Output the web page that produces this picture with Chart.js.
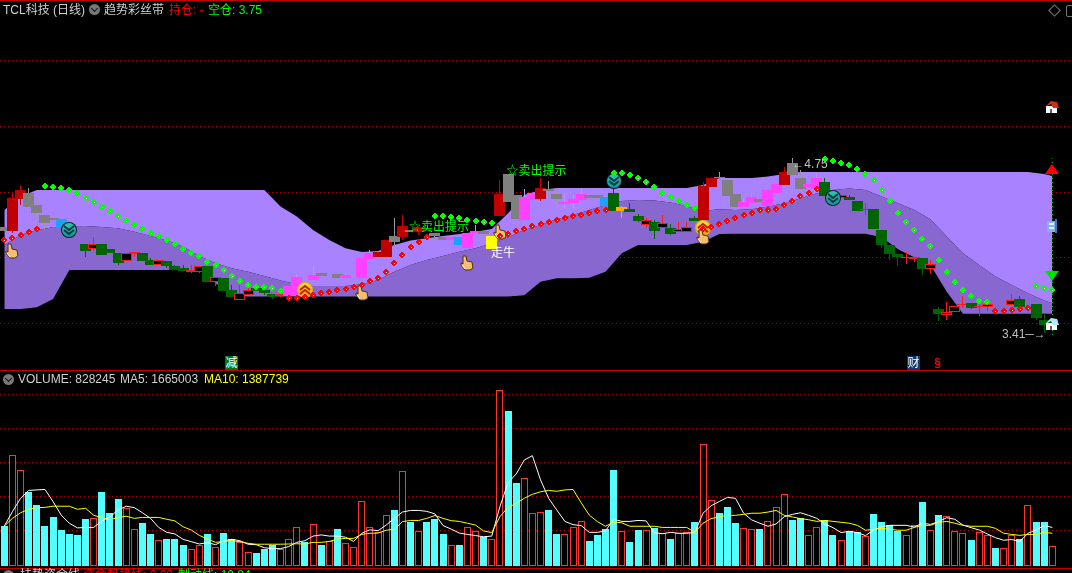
<!DOCTYPE html>
<html>
<head>
<meta charset="utf-8">
<title>TCL科技 (日线)</title>
<script src="https://cdn.jsdelivr.net/npm/chart.js@4/dist/chart.umd.min.js"></script>
<style>
  html, body { margin: 0; background: #000; }
  #stage { position: relative; width: 1072px; height: 573px; overflow: hidden; background: #000;
    font: 12px/20px "Liberation Sans", "Noto Sans CJK SC", sans-serif; color: #d0d0d0; }
  canvas { position: absolute; left: 0; }
  .txt { position: absolute; white-space: nowrap; }
  .rule { position: absolute; left: 0; width: 1072px; height: 1px; background: #c00000; }
  .chev { position: absolute; width: 11px; height: 11px; border-radius: 50%; background: #787878; }
  .chev::after { content: ""; position: absolute; left: 3px; top: 1.5px; width: 4px; height: 4px;
    border: solid #111; border-width: 0 1px 1px 0; transform: rotate(45deg); }
  .tag { position: absolute; width: 13px; height: 14px; line-height: 14px; text-align: center; color: #fff; }
</style>
</head>
<body>
<div id="stage">
  <canvas id="priceChart" width="1072" height="370" style="top:0"></canvas>
  <canvas id="volumeChart" width="1072" height="197" style="top:370px"></canvas>

  <div class="rule" style="top:0"></div>
  <div class="rule" style="top:370px"></div>
  <div class="rule" style="top:568px"></div>

  <span class="txt" style="left:3px;top:0">TCL科技 (日线)</span>
  <span class="chev" style="left:89px;top:4px"></span>
  <span class="txt" style="left:104px;top:0">趋势彩丝带</span>
  <span class="txt" style="left:169px;top:0;color:#ff0000">持仓: -</span>
  <span class="txt" style="left:208px;top:0;color:#00ff00">空仓: 3.75</span>
  <span style="position:absolute;left:1050px;top:6px;width:7px;height:7px;border:1px solid #777;transform:rotate(45deg)"></span>
  <span style="position:absolute;left:1066px;top:5px;width:10px;height:10px;border:1px solid #777;border-radius:2px"></span>

  <span class="tag" style="left:225px;top:356px;background:#007a10">减</span>
  <span class="tag" style="left:907px;top:356px;background:#123a70">财</span>
  <span class="tag" style="left:931px;top:356px;color:#ff0000;font-weight:bold">§</span>

  <span class="chev" style="left:3px;top:374px"></span>
  <span class="txt" style="left:18px;top:369px">VOLUME: 828245</span>
  <span class="txt" style="left:120px;top:369px">MA5: 1665003</span>
  <span class="txt" style="left:204px;top:369px;color:#ffff00">MA10: 1387739</span>

  <span class="chev" style="left:3px;top:570px"></span>
  <span class="txt" style="left:20px;top:565px">扶势资金线</span>
  <span class="txt" style="left:83px;top:565px;color:#ff0000">资金趋势线: 0.00</span>
  <span class="txt" style="left:178px;top:565px;color:#00ff00">制动线: 10.84</span>
</div>

<script>
// ---- data, one entry per trading day ----
const candleKinds = [
  "arraaaabn-","nonnnoonno","nnnoononno","onnnommmma","-am-mmrrar","ar-aambmma","yraammraam",
  "mmaabntnno","nonoonrraa","ammammraam","mnnonnonnn","noononooon","oo--on-nnn"
].join("").split("");

const bodyHigh = [
  4.235,4.453,4.513,4.49,4.4,4.325,4.303,4.295,4.25,null,
  4.108,4.108,4.108,4.07,4.04,4.04,4.048,4.04,3.988,3.988,
  3.98,3.943,3.928,3.913,3.943,3.943,3.86,3.853,3.763,3.74,
  3.763,3.778,3.763,3.733,3.733,3.793,3.86,3.813,3.875,3.89,
  null,3.883,3.875,null,4.005,4.04,4.048,4.138,4.168,4.243,
  4.213,4.233,null,4.193,4.16,4.16,4.16,4.19,4.205,4.205,
  4.168,4.483,4.633,4.475,4.46,4.49,4.528,4.52,4.483,4.423,
  4.445,4.483,4.475,4.475,4.46,4.49,4.385,4.37,4.318,4.288,
  4.273,4.265,4.228,4.22,4.235,4.303,4.543,4.603,4.613,4.588,
  4.483,4.423,4.46,4.445,4.513,4.558,4.648,4.713,4.603,4.558,
  4.603,4.573,4.5,4.475,4.46,4.43,4.37,4.37,4.213,4.1,
  4.033,4.013,4.013,4.003,3.958,3.62,3.598,3.643,3.658,3.665,
  3.643,3.658,null,null,3.688,3.695,null,3.658,3.538,3.538
];
const bodyLow = [
  4.205,4.205,4.445,4.385,4.34,4.265,4.29,4.228,4.188,null,
  4.055,4.07,4.025,4.04,3.965,3.98,4.033,3.98,3.95,3.95,
  3.943,3.913,3.905,3.898,3.898,3.823,3.823,3.755,3.71,3.688,
  3.725,3.755,3.74,3.71,3.72,3.718,3.718,3.733,3.838,3.868,
  null,3.853,3.853,null,3.855,3.995,4.01,4.01,4.123,4.16,
  4.198,4.198,null,4.168,4.138,4.138,4.1,4.078,4.19,4.183,
  4.07,4.318,4.423,4.295,4.288,4.438,4.445,4.505,4.445,4.408,
  4.415,4.438,4.453,4.453,4.393,4.355,4.355,4.348,4.28,4.25,
  4.205,4.228,4.183,4.198,4.198,4.28,4.288,4.535,4.603,4.468,
  4.385,4.385,4.415,4.423,4.393,4.49,4.55,4.625,4.52,4.533,
  4.52,4.468,4.413,4.45,4.438,4.355,4.365,4.22,4.1,4.033,
  4.01,4.003,3.998,3.92,3.92,3.585,3.573,3.598,3.65,3.628,
  3.635,3.635,null,null,3.65,3.635,null,3.553,3.5,3.5
];
// null = no wick beyond the body
const wickHigh = [
  null,4.483,4.55,4.525,4.438,null,4.388,null,null,null,
  null,4.16,null,null,null,null,null,null,4.003,null,
  null,3.95,3.95,3.95,null,null,null,null,3.8,3.8,
  3.778,null,null,null,null,null,3.883,null,3.943,null,
  null,3.943,3.888,null,null,4.063,null,null,4.303,4.325,
  null,null,null,null,null,null,null,null,4.25,null,
  null,4.588,null,null,4.52,null,4.603,4.58,4.52,4.483,
  4.475,4.525,null,null,4.498,4.535,4.393,4.415,4.333,4.303,
  4.288,4.325,4.258,4.273,4.273,4.318,4.575,null,4.648,null,
  null,4.45,4.488,4.488,null,null,4.688,4.75,4.663,null,
  4.638,4.603,null,null,4.475,null,4.415,null,null,null,
  null,4.048,null,null,3.988,3.635,3.673,null,3.718,null,
  3.695,null,null,null,3.733,3.718,null,null,3.588,null
];
const wickLow = [
  null,4.188,4.4,null,4.3,4.213,4.225,null,null,null,
  4.013,4.063,null,null,3.95,null,4.01,null,null,null,
  3.928,null,null,3.89,3.89,null,3.793,null,null,null,
  null,null,3.725,3.695,3.71,null,null,null,null,null,
  null,null,null,null,null,null,null,null,4.1,4.138,
  null,4.175,null,4.125,null,null,null,null,null,null,
  null,null,null,null,null,null,4.43,4.438,4.413,4.375,
  4.37,null,null,null,null,null,4.303,null,4.273,4.228,
  4.145,null,4.175,null,null,null,null,null,4.575,null,
  null,null,null,4.388,null,null,null,null,null,null,
  null,null,null,null,null,null,4.325,null,4.078,3.988,
  3.943,3.958,3.973,3.875,3.883,3.53,3.538,null,3.628,3.62,
  3.568,3.605,null,null,null,null,null,3.538,3.438,null
];

const ribbonAt = [0,2,4,6,8,10,12,14,16,18,20,22,24,26,28,30,32,34,36,38,40,42,44,46,48,50,52,54,56,58,60,62,64,
  66,68,70,72,74,76,78,80,82,84,86,88,90,92,94,96,98,100,102,104,106,108,110,112,114,116,118,120,122,124,126,128,129];
const ribbonTop = [4.363,4.463,4.513,4.513,4.513,4.513,4.513,4.513,4.513,4.513,4.513,4.513,4.513,4.513,4.513,4.513,4.513,
  4.388,4.313,4.213,4.138,4.075,4.048,4.055,4.1,4.133,4.15,4.168,4.183,4.2,4.22,4.338,4.475,4.513,
  4.528,4.528,4.528,4.528,4.528,4.528,4.528,4.528,4.528,4.55,4.603,4.603,4.603,4.613,4.633,
  4.648,4.648,4.648,4.648,4.648,4.648,4.648,4.648,4.648,4.648,4.648,4.648,4.648,4.648,4.648,4.633,4.618];
const ribbonMid = [4.1,4.175,4.213,4.233,4.24,4.243,4.235,4.225,4.2,4.168,4.133,4.088,4.018,3.963,3.925,3.9,3.868,3.833,3.805,
  3.793,3.793,3.793,3.805,3.838,3.9,3.95,3.988,4.018,4.05,4.075,4.113,4.158,4.213,4.25,4.293,4.325,4.363,4.4,4.43,4.438,4.433,4.418,4.393,4.355,
  4.368,4.363,4.368,4.388,4.413,4.45,4.488,4.513,4.523,4.513,4.463,4.413,4.363,4.293,4.163,4.038,3.95,3.863,3.8,3.738,3.683,3.663];
const ribbonLow = [3.62,3.62,3.633,3.695,3.913,3.913,3.913,3.913,3.913,3.913,3.913,3.913,3.913,3.813,3.718,
  3.713,3.713,3.713,3.713,3.713,3.713,3.713,3.713,3.713,3.713,3.713,3.713,3.713,3.713,3.713,3.713,3.713,
  3.723,3.825,3.85,3.85,3.855,3.9,4.038,4.1,4.1,4.1,4.1,4.125,4.183,
  4.185,4.185,4.185,4.185,4.185,4.185,4.185,4.185,4.185,4.158,4.068,4.008,3.95,3.75,
  3.585,3.585,3.585,3.585,3.585,3.585,3.585];

const bullDots = [
  4.138,4.153,4.175,4.198,4.22,null,null,null,null,null,
  null,null,null,null,null,null,null,null,null,null,
  null,null,null,null,null,null,null,null,null,null,
  null,null,null,null,null,3.703,3.703,3.71,3.725,3.74,
  3.75,3.763,3.77,3.785,3.8,3.83,3.853,3.898,3.965,4.025,
  4.085,4.123,4.16,null,null,null,null,null,null,null,
  null,4.168,4.183,4.205,4.22,4.243,4.258,4.273,4.288,4.303,
  4.318,4.325,4.34,4.355,4.363,null,null,null,null,null,
  null,null,null,null,null,null,4.218,4.235,4.258,4.28,
  4.303,4.325,4.34,4.363,4.363,4.37,4.4,4.43,4.468,4.49,
  4.52,null,null,null,null,null,null,null,null,null,
  null,null,null,null,null,null,null,null,null,null,
  null,null,3.605,3.605,3.613,3.62,3.628,null,null,null
];
const bearDots = [
  null,null,null,null,null,4.543,4.535,4.528,4.513,4.49,
  4.453,4.423,4.385,4.355,4.318,4.28,4.25,4.22,4.19,4.168,
  4.138,4.108,4.07,4.04,4.018,3.973,3.95,3.913,3.868,3.83,
  3.8,3.785,3.785,3.778,3.755,null,null,null,null,null,
  null,null,null,null,null,null,null,null,null,null,
  null,null,null,4.318,4.318,4.31,4.303,4.288,4.28,4.273,
  4.265,null,null,null,null,null,null,null,null,null,
  null,null,null,null,null,4.64,4.64,4.625,4.603,4.573,
  4.535,4.49,4.46,4.43,4.4,4.378,null,null,null,null,
  null,null,null,null,null,null,null,null,null,null,
  null,4.745,4.73,4.715,4.7,4.67,4.633,4.588,4.513,4.43,
  4.34,4.273,4.213,4.145,4.093,3.988,3.898,3.823,3.763,3.718,
  3.68,3.673,null,null,null,null,null,3.793,3.778,3.763
];

const handAt = [1,44,57,61,86];
const handPrice = [4.058,3.738,3.968,4.2,4.158];
const sellIconAt = [8,75,102];
const sellIconPrice = [4.213,4.58,4.453];
const buyIconAt = [37,86];
const buyIconPrice = [3.763,4.225];
const rangeLine = [3.425,4.75];

const labelTexts = ["☆卖出提示","☆卖出提示","走牛","←4.75","3.41─→"];
const labelAt = [61.8,49.8,59.9,97,122.8];
const labelPrice = [4.65,4.233,4.038,4.7,3.425];
const labelKinds = ["sell","sell","bull","note","note"];

// volume in units of 10 000, "u" = up day, "d" = down day
const volumeSides = [
  "duuddddddd","duddduuddu","ddduududdu","uddduuudud","uduuuuuudu","duddduduud","uudduuuddu",
  "uuddddu" + "ddu","duduuduudd","duuduuuddu","udduddu" + "ddd","duududuuud","uuduudu" + "ddu"
].join("").split("");
const volumes = [
  170,473,409,316,260,170,209,153,136,132,
  200,204,316,226,286,247,156,183,136,109,
  114,114,89,70,87,136,79,140,114,100,
  57,54,72,89,70,113,164,102,177,89,
  104,157,96,79,276,164,143,216,239,405,
  187,147,187,200,136,87,89,164,147,122,
  113,752,664,355,375,225,229,239,136,134,
  164,190,106,132,157,410,147,102,153,152,
  160,139,114,139,143,187,521,280,226,252,
  183,160,156,157,190,250,306,196,203,130,
  164,196,132,109,147,143,126,222,187,173,
  149,130,173,273,152,217,212,147,139,110,
  143,132,76,74,130,113,259,187,187,83
];
const ma5 = [
  170,232,289,323,325,327,275,217,182,162,
  164,164,192,209,239,255,249,227,203,164,
  143,136,113,103,93,99,90,107,113,107,
  92,90,77,73,73,82,100,107,127,132,
  127,127,122,104,139,154,150,174,203,230,
  237,237,233,222,172,157,140,134,129,124,
  127,253,356,393,453,472,368,289,239,190,
  176,172,143,143,149,199,190,190,194,192,
  142,137,143,139,139,143,225,257,275,293,
  289,225,196,182,169,179,210,220,227,216,
  203,179,163,142,147,142,129,153,167,173,
  173,173,166,182,177,189,206,199,174,163,
  153,136,120,109,112,104,139,153,172,164
];
const ma10 = [
  170,203,227,242,249,250,255,255,255,242,
  246,216,206,197,206,212,203,207,207,207,
  199,192,167,153,130,114,100,104,107,103,
  96,92,92,92,92,93,94,93,100,100,
  104,114,117,117,134,139,140,152,156,189,
  194,194,203,215,203,193,190,182,174,149,
  142,210,250,267,289,306,317,323,319,325,
  327,270,217,189,169,187,184,169,169,169,
  169,164,164,164,164,143,182,202,209,216,
  216,220,225,225,230,237,216,209,202,197,
  190,194,190,186,182,173,152,156,160,156,
  152,152,164,173,173,186,190,182,173,169,
  169,169,160,139,134,130,134,134,143,139
];
const priceGridLevels = [5.48,4.989,4.495,4.006,3.515];
const volumeGridLevels = [735,589,443,297,152];

// ---- styles ----
const bodyFill = { a:"#808080", r:"#c00000", o:"#000000", n:"#006400", m:"#ff40ff", b:"#1ea0ff", y:"#ffff00", t:"#ffb000" };
const bodyEdge = { a:"#808080", r:"#c00000", o:"#ff1818", n:"#006400", m:"#ff40ff", b:"#1ea0ff", y:"#ffff00", t:"#ffb000" };
const wickTone = { a:"#9a9a9a", r:"#c80000", o:"#ff1818", n:"#006400", m:"#c090ff", b:"#60b0ff", y:"#ffff00", t:"#ffb000" };
const labelTone = { sell:"#00ff00", bull:"#ffffff", note:"#c0c0c0" };
const uiFont = '12px "Liberation Sans", "Noto Sans CJK SC", sans-serif';

// the whole 130 days sit on x = index, scale limits chosen so day 0 lands at 4.3px and the pitch is 8.12px
const xMin = -0.533, xMax = 131.42;

function sprite(w, h, paint) {
  const c = document.createElement("canvas");
  c.width = w; c.height = h;
  paint(c.getContext("2d"));
  return c;
}

function dotSprite(color) {
  return sprite(6, 6, g => {
    g.fillStyle = color;
    [[2,0,2],[1,1,4],[0,2,6],[0,3,6],[1,4,4],[2,5,2]].forEach(([x, y, w]) => g.fillRect(x, y, w, 1));
    g.fillStyle = "#ffffff";
    g.fillRect(3, 3, 1, 1);
  });
}

const handIcon = sprite(14, 16, g => {
  g.beginPath();
  g.moveTo(3,1); g.lineTo(6,1); g.lineTo(7,6); g.lineTo(12,7); g.lineTo(13,13); g.lineTo(10,15);
  g.lineTo(5,15); g.lineTo(1,10); g.lineTo(1,8); g.lineTo(3,9); g.closePath();
  g.fillStyle = "#f5bd70"; g.fill();
  g.strokeStyle = "#4a3210"; g.lineWidth = 1; g.stroke();
  g.strokeStyle = "#fff2d8";
  g.beginPath(); g.moveTo(2,10); g.lineTo(5,14); g.stroke();
});

function badge(size, ring, top, bottom, arrow, pointsUp) {
  return sprite(size, size, g => {
    const r = size / 2;
    g.fillStyle = ring;
    g.beginPath(); g.arc(r, r, r, 0, Math.PI * 2); g.fill();
    const fill = g.createLinearGradient(0, 0, 0, size);
    fill.addColorStop(0, top); fill.addColorStop(1, bottom);
    g.fillStyle = fill;
    g.beginPath(); g.arc(r, r, r - 1, 0, Math.PI * 2); g.fill();
    g.strokeStyle = arrow; g.lineWidth = 2;
    const dir = pointsUp ? -1 : 1;
    [-2, 2].forEach(off => {
      g.beginPath();
      g.moveTo(r - 5, r + off - 2 * dir); g.lineTo(r, r + off + 2 * dir); g.lineTo(r + 5, r + off - 2 * dir);
      g.stroke();
    });
  });
}
const sellIcon = badge(16, "#101820", "#38c8b0", "#109098", "#0b3b48", false);
const buyIcon = badge(16, "#e8b000", "#ffe040", "#f09010", "#c02010", true);

function triangle(color, pointsUp) {
  return sprite(14, 10, g => {
    g.fillStyle = color;
    g.beginPath();
    if (pointsUp) { g.moveTo(7,0); g.lineTo(14,10); g.lineTo(0,10); }
    else { g.moveTo(0,0); g.lineTo(14,0); g.lineTo(7,10); }
    g.fill();
  });
}
function house(roof, wall) {
  return sprite(16, 14, g => {
    g.fillStyle = wall; g.fillRect(2, 6, 11, 7);
    g.fillStyle = roof;
    g.beginPath(); g.moveTo(1,7); g.lineTo(7,1); g.lineTo(13,2); g.lineTo(15,8); g.lineTo(9,8); g.lineTo(7,4); g.closePath(); g.fill();
    g.fillStyle = "#606060"; g.fillRect(6, 9, 2, 4);
  });
}
const canIcon = sprite(10, 14, g => {
  g.fillStyle = "#80b4ea"; g.fillRect(0, 2, 10, 11);
  g.fillStyle = "#dceeff"; g.fillRect(2, 4, 5, 2); g.fillRect(2, 8, 5, 2);
  g.fillStyle = "#3f78c0"; g.fillRect(8, 0, 2, 14);
});

const sideAt = [129,129,129,129,129];
const sidePrice = [5.135,4.668,4.243,3.868,3.505];
const sideIcons = [house("#d03010","#ffffff"), triangle("#ff0000",true), canIcon, triangle("#00e000",false), house("#b8e4ff","#ffffff")];

// ---- helpers ----
const xy = (list, at) => list.map((v, i) => ({ x: at ? at[i] : i, y: v })).filter(p => p.y !== null);

const pixelSnap = {
  id: "pixelSnap",
  beforeDatasetsDraw(chart) {
    chart.getSortedVisibleDatasetMetas().forEach(meta => {
      const ds = chart.data.datasets[meta.index];
      if (meta.type === "bar") {
        meta.data.forEach(el => {
          el.x = Math.floor(el.x) + 0.5;
          el.y = Math.round(el.y);
          el.base = Math.round(el.base);
          if (el.y === el.base) el.y -= 1;
        });
      } else if (ds.showLine === false) {
        meta.data.forEach(el => { el.x = Math.round(el.x); el.y = Math.round(el.y); });
      }
    });
  }
};

const chartLabels = {
  id: "chartLabels",
  afterDatasetsDraw(chart) {
    const g = chart.ctx;
    g.save();
    g.font = uiFont;
    g.textBaseline = "middle";
    labelTexts.forEach((t, i) => {
      g.fillStyle = labelTone[labelKinds[i]];
      g.fillText(t, chart.scales.x.getPixelForValue(labelAt[i]), chart.scales.y.getPixelForValue(labelPrice[i]));
    });
    g.restore();
  }
};

function gridAxis(min, max, levels) {
  return {
    min, max,
    afterFit: scale => { scale.width = 0; },
    afterBuildTicks: scale => { scale.ticks = levels.map(value => ({ value })); },
    ticks: { display: false },
    border: { display: false, dash: [1, 3] },
    grid: { color: "#b00000", drawTicks: false, lineWidth: 1 }
  };
}
const xAxis = { type: "linear", min: xMin, max: xMax, offset: false, display: false, grid: { display: false, offset: false } };
const baseOptions = {
  responsive: false,
  animation: false,
  devicePixelRatio: 1,
  layout: { padding: 0, autoPadding: false },
  plugins: { legend: { display: false }, tooltip: { enabled: false } }
};

// ---- price panel ----
const ranges = bodyHigh.map((hi, i) => hi === null ? null : { x: i, y: [bodyLow[i], hi], k: candleKinds[i] }).filter(Boolean);
const wicks = bodyHigh.map((hi, i) => hi === null ? null : { x: i, y: [wickLow[i] ?? bodyLow[i], wickHigh[i] ?? hi], k: candleKinds[i] }).filter(Boolean);

const ribbon = (data, fill, color, order) => ({
  type: "line", data: xy(data, ribbonAt), fill, backgroundColor: color, borderWidth: 0, pointRadius: 0, tension: 0, order
});
const markers = (data, style, order) => ({
  type: "line", data, showLine: false, pointStyle: style, pointRadius: 4, order
});

new Chart(document.getElementById("priceChart"), {
  type: "bar",
  data: {
    datasets: [
      ribbon(ribbonTop, "+1", "#a882ff", 100),
      ribbon(ribbonMid, "+1", "#8868d0", 99),
      ribbon(ribbonLow, false, "#8868d0", 98),
      { type: "bar", grouped: false, data: wicks, barThickness: 1, inflateAmount: 0, borderWidth: 0,
        backgroundColor: c => wickTone[c.raw.k], order: 60 },
      { type: "bar", grouped: false, data: ranges, barThickness: 11, inflateAmount: 0, borderWidth: 1, borderSkipped: false,
        backgroundColor: c => bodyFill[c.raw.k], borderColor: c => bodyEdge[c.raw.k], order: 50 },
      { type: "line", data: [{ x: 129, y: rangeLine[0] }, { x: 129, y: rangeLine[1] }], borderColor: "#00d000", borderWidth: 1,
        borderDash: [1, 3], pointRadius: 0, order: 45 },
      markers(xy(sellIconPrice, sellIconAt), sellIcon, 40),
      markers(xy(buyIconPrice, buyIconAt), buyIcon, 39),
      markers(xy(handPrice, handAt), handIcon, 38),
      markers(xy(bullDots), dotSprite("#ff0000"), 20),
      markers(xy(bearDots), dotSprite("#00ff00"), 19),
      { type: "line", data: xy(sidePrice, sideAt), showLine: false, pointRadius: 4, pointStyle: c => sideIcons[c.dataIndex], order: 10 }
    ]
  },
  options: { ...baseOptions, scales: { x: xAxis, y: gridAxis(3.1625, 5.9375, priceGridLevels) } },
  plugins: [pixelSnap, chartLabels]
});

// ---- volume panel ----
new Chart(document.getElementById("volumeChart"), {
  type: "bar",
  data: {
    datasets: [
      { type: "line", data: xy(ma5), borderColor: "#ffffff", borderWidth: 1, pointRadius: 0, tension: 0, order: 2 },
      { type: "line", data: xy(ma10), borderColor: "#ffff00", borderWidth: 1, pointRadius: 0, tension: 0, order: 1 },
      { type: "bar", data: xy(volumes), barThickness: 7, inflateAmount: 0, borderWidth: 1, borderSkipped: false,
        backgroundColor: c => volumeSides[c.dataIndex] === "u" ? "#000000" : "#54ffff",
        borderColor: c => volumeSides[c.dataIndex] === "u" ? "#ff3232" : "#54ffff", order: 5 }
    ]
  },
  options: { ...baseOptions, scales: { x: xAxis, y: gridAxis(-5.72, 839.41, volumeGridLevels) } },
  plugins: [pixelSnap]
});
</script>
</body>
</html>
